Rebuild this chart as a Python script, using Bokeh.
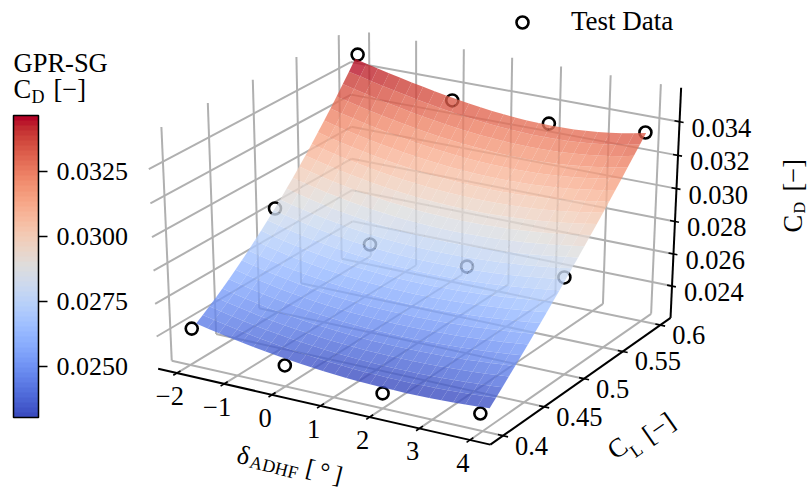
import numpy as np
from bokeh.plotting import figure
from bokeh.embed import file_html
from bokeh.resources import INLINE
from bokeh.models import Range1d, ColorBar, LinearColorMapper, FixedTicker, PrintfTickFormatter, Legend, LegendItem
from bokeh.core.properties import value

# ---- data ----
delta_ticks=[-2,-1,0,1,2,3,4]
delta_labels=["\u22122","\u22121","0","1","2","3","4"]
cl_ticks=[.4,.45,.5,.55,.6]
cl_labels=["0.4","0.45","0.5","0.55","0.6"]
cd_ticks=[.024,.026,.028,.030,.032,.034]
cd_labels=["0.024","0.026","0.028","0.030","0.032","0.034"]
cb_ticks=[.025,.0275,.03,.0325]
test_delta=[-2,0,2,4,-2,0,2,4,-2,0,2,4]
test_cl=[.403,.4,.4,.397,.5,.5,.5,.497,.6,.6,.6,.596]
test_cd=[.02415,.02329,.02292,.02317,.02848,.02746,.02733,.0280,.03503,.0333,.03298,.03365]
delta_grid=[-2,-1.76,-1.52,-1.28,-1.04,-.8,-.56,-.32,-.08,.16,.4,.64,.88,1.12,1.36,1.6,1.84,2.08,2.32,2.56,2.8,3.04,3.28,3.52,3.76,4]
cl_grid=[.408,.4156,.4231,.4307,.4382,.4458,.4534,.4609,.4685,.4760,.4836,.4912,.4987,.5063,.5138,.5214,.5290,.5365,.5441,.5516,.5592,.5668,.5743,.5819,.5894,.597]
# surface CD x 1e5, one row per cl_grid entry, one column per delta_grid entry
cd_surface_1e5=[
[2430,2415,2401,2387,2375,2363,2352,2342,2333,2325,2317,2311,2305,2300,2296,2293,2291,2290,2289,2290,2291,2293,2296,2300,2304,2310],
[2458,2442,2428,2414,2402,2390,2379,2369,2360,2353,2346,2340,2335,2330,2327,2325,2323,2322,2322,2324,2325,2328,2332,2336,2341,2347],
[2487,2471,2456,2442,2430,2418,2408,2398,2390,2382,2375,2370,2365,2361,2359,2357,2356,2356,2356,2358,2360,2364,2368,2373,2378,2385],
[2517,2501,2486,2472,2459,2448,2437,2428,2420,2412,2406,2401,2397,2393,2391,2390,2389,2390,2391,2393,2396,2400,2404,2410,2416,2423],
[2548,2532,2517,2503,2490,2479,2468,2459,2451,2444,2438,2433,2429,2426,2424,2423,2423,2424,2426,2429,2432,2436,2442,2447,2454,2461],
[2581,2564,2549,2535,2522,2511,2500,2491,2483,2476,2471,2466,2462,2460,2458,2458,2458,2459,2462,2465,2469,2473,2479,2485,2492,2500],
[2615,2598,2582,2568,2555,2544,2533,2524,2516,2510,2504,2500,2497,2494,2493,2493,2494,2495,2498,2501,2506,2511,2517,2524,2531,2539],
[2650,2633,2617,2603,2590,2578,2568,2559,2551,2544,2539,2535,2532,2530,2529,2529,2530,2532,2535,2539,2543,2549,2555,2562,2570,2579],
[2686,2669,2653,2638,2625,2614,2603,2594,2587,2580,2575,2571,2568,2566,2565,2566,2567,2569,2572,2576,2582,2587,2594,2602,2610,2619],
[2724,2706,2690,2675,2662,2651,2640,2631,2623,2617,2612,2608,2605,2603,2602,2603,2604,2607,2610,2615,2620,2626,2633,2641,2650,2659],
[2762,2744,2728,2714,2700,2689,2678,2669,2661,2655,2650,2646,2643,2641,2641,2641,2643,2645,2649,2654,2659,2666,2673,2681,2690,2700],
[2802,2784,2768,2753,2740,2728,2717,2708,2700,2694,2688,2684,2682,2680,2679,2680,2682,2685,2688,2693,2699,2706,2713,2722,2731,2741],
[2843,2825,2809,2794,2780,2768,2758,2748,2740,2734,2728,2724,2721,2720,2719,2720,2721,2724,2728,2733,2739,2746,2754,2763,2772,2783],
[2885,2867,2851,2836,2822,2810,2799,2790,2782,2775,2769,2765,2762,2760,2760,2760,2762,2765,2769,2774,2780,2787,2795,2804,2814,2825],
[2929,2911,2894,2879,2865,2853,2842,2832,2824,2817,2811,2807,2804,2802,2801,2801,2803,2806,2810,2815,2821,2828,2836,2846,2856,2867],
[2973,2955,2939,2923,2910,2897,2886,2876,2868,2860,2854,2850,2846,2844,2843,2843,2845,2847,2851,2856,2862,2870,2878,2888,2898,2910],
[3019,3001,2984,2969,2955,2942,2931,2921,2912,2905,2898,2893,2890,2887,2886,2886,2887,2890,2893,2898,2905,2912,2920,2930,2941,2953],
[3066,3048,3031,3016,3002,2989,2977,2967,2958,2950,2943,2938,2934,2931,2930,2929,2930,2933,2936,2941,2947,2955,2963,2973,2984,2997],
[3114,3096,3080,3064,3050,3037,3025,3014,3005,2997,2990,2984,2979,2976,2974,2974,2974,2976,2980,2984,2990,2998,3006,3017,3028,3041],
[3164,3146,3129,3114,3099,3086,3074,3063,3053,3044,3037,3031,3026,3022,3020,3019,3019,3021,3024,3028,3034,3041,3050,3060,3072,3085],
[3214,3196,3180,3164,3150,3136,3124,3112,3102,3093,3085,3078,3073,3069,3066,3064,3064,3066,3068,3072,3078,3085,3094,3104,3116,3130],
[3266,3248,3232,3216,3201,3187,3175,3163,3152,3142,3134,3127,3121,3116,3113,3111,3110,3111,3113,3117,3123,3130,3139,3149,3161,3175],
[3319,3302,3285,3269,3254,3240,3227,3215,3203,3193,3184,3176,3170,3165,3161,3158,3157,3157,3159,3163,3168,3175,3184,3194,3207,3221],
[3373,3356,3339,3324,3308,3294,3280,3268,3256,3245,3235,3227,3220,3214,3209,3206,3204,3204,3206,3209,3214,3220,3229,3240,3252,3267],
[3428,3412,3395,3379,3364,3349,3335,3322,3309,3298,3288,3279,3271,3264,3259,3255,3252,3252,3253,3255,3260,3266,3275,3285,3298,3313],
[3485,3468,3452,3436,3420,3405,3391,3377,3364,3352,3341,3331,3322,3315,3309,3304,3301,3300,3300,3302,3307,3313,3321,3332,3345,3360],
]
vlow,vhigh=.02304,.03465

# ---- camera: perspective projection of the 3-D box onto the page ----
FONT = value("Liberation Serif")
CAM = np.array([[45.605661,31.864782,-2.420554,369.413866],[8.286330,-14.368142,-34.189046,235.169297],[-.006389,.010206,-.005832,1.0]])
dmin,dmax,cmin,cmax,zmin,zmax=-2.4,4.4,.385,.614,.022,.036
def pr(d,c,z):
    d,c,z=np.broadcast_arrays(np.asarray(d,float),np.asarray(c,float),np.asarray(z,float))
    D,C,Z=d,(c-.5)*30,(z-.028)*500
    w=CAM[2,0]*D+CAM[2,1]*C+CAM[2,2]*Z+CAM[2,3]
    return (CAM[0,0]*D+CAM[0,1]*C+CAM[0,2]*Z+CAM[0,3])/w,(CAM[1,0]*D+CAM[1,1]*C+CAM[1,2]*Z+CAM[1,3])/w

CW=np.array([[59,76,192],[68,90,204],[77,104,215],[87,117,225],[98,130,234],[108,142,241],[119,154,247],[130,165,251],[141,176,254],[152,185,255],[163,194,255],[174,201,253],[184,208,249],[194,213,244],[204,217,238],[213,219,230],[221,221,221],[229,216,209],[236,211,197],[241,205,185],[245,197,173],[247,187,160],[247,177,148],[247,166,135],[244,154,123],[241,141,111],[236,127,99],[229,112,88],[222,96,77],[213,80,66],[203,62,56],[192,40,47],[180,4,38]],float)
def cmap(t):
    t=np.clip(t,0,1)
    pos=np.linspace(0,1,33)
    return ["#%02x%02x%02x"%tuple(int(round(np.interp(v,pos,CW[:,k]))) for k in range(3)) for v in np.atleast_1d(t)]

p=figure(width=810,height=488,toolbar_location=None,output_backend="svg",x_range=Range1d(0,810),y_range=Range1d(488,0),
         x_axis_location=None,y_axis_location=None,min_border=0,outline_line_color=None)
p.grid.visible=False

GRID="#b0b0b0"
def pline(a,b,color=GRID,w=2.0):
    x,y=pr([a[0],b[0]],[a[1],b[1]],[a[2],b[2]])
    p.line(x,y,line_color=color,line_width=w)
for d in delta_ticks:
    pline((d,cmin,zmin),(d,cmax,zmin))
    pline((d,cmax,zmin),(d,cmax,zmax))
for c in cl_ticks:
    pline((dmin,c,zmin),(dmax,c,zmin))
    pline((dmin,c,zmin),(dmin,c,zmax))
for z in cd_ticks:
    pline((dmin,cmin,z),(dmin,cmax,z))
    pline((dmin,cmax,z),(dmax,cmax,z))

AX=dict(color="black",w=2.0)
pline((dmin,cmin,zmin),(dmax,cmin,zmin),**AX)
pline((dmax,cmin,zmin),(dmax,cmax,zmin),**AX)
pline((dmax,cmax,zmin),(dmax,cmax,zmax),**AX)
TK=dict(color="black",w=1.6)
for d in delta_ticks:
    pline((d,cmin-.004,zmin),(d,cmin+.004,zmin),**TK)
for c in cl_ticks:
    pline((dmax-.1,c,zmin),(dmax+.1,c,zmin),**TK)
for z in cd_ticks:
    pline((dmax-.1,cmax,z),(dmax+.08,cmax,z),**TK)

TXT=dict(text_font=FONT,text_font_size="26.5px",text_color="black")
x,y=pr(delta_ticks,cmin,zmin)
p.text(x-7,y+23,text=delta_labels,text_align="center",text_baseline="middle",**TXT)
x,y=pr(dmax,cl_ticks,zmin)
p.text(x+12,y+10,text=cl_labels,text_align="left",text_baseline="middle",**TXT)
x,y=pr(dmax,cmax,cd_ticks)
p.text(x+12,y+6,text=cd_labels,text_align="left",text_baseline="middle",**TXT)

# test data under the translucent surface
tx,ty=pr(test_delta,test_cl,test_cd)
pts=p.scatter(tx,ty,size=12,fill_color=None,line_color="black",line_width=2.6)

# surface
gd=np.array(delta_grid);gc=np.array(cl_grid);surface=np.array(cd_surface_1e5)*1e-5
xs=[];ys=[];cols=[]
sx,sy=pr(gd[None,:],gc[:,None],surface)
for j in range(len(gc)-1):
    for i in range(len(gd)-1):
        idx=([j,j,j+1,j+1],[i,i+1,i+1,i])
        xs.append(list(sx[idx]));ys.append(list(sy[idx]))
        cols.append(cmap((surface[j:j+2,i:i+2].mean()-vlow)/(vhigh-vlow))[0])
p.patches(xs,ys,fill_color=cols,fill_alpha=.8,line_color=None)

def rot(parts,ang):
    a=np.deg2rad(ang)
    for t,x,y,sz in parts:
        off=.35*sz
        p.text([x-off*np.sin(a)],[y-off*np.cos(a)],text=[t],angle=ang,angle_units="deg",text_font=FONT,text_font_size=f"{sz}px",text_align="left",text_baseline="alphabetic",text_color="black")
rot([("\u03b4",235,462,26.5),("ADHF",248,467,18),("[\u2009\u00b0\u2009]",304,475,25)],-14)
rot([("C",615,460,26.5),("L",635,458,18),("[\u2212]",650,444,26.5)],35)
rot([("C",802,232,26.5),("D",805,213,16),("[\u2212]",802,191,26.5)],90)
rot([("GPR-SG",13,72,26.5),("C",13,98,26.5),("D",31,103,18),("[\u2212]",53,98,26.5)],0)

palette=cmap(np.linspace(0,1,60))
mapper=LinearColorMapper(palette=palette,low=vlow,high=vhigh)
cb=ColorBar(color_mapper=mapper,location=(13,71),width=25,height=302,padding=0,margin=0,
  ticker=FixedTicker(ticks=cb_ticks),formatter=PrintfTickFormatter(format="%.4f"),
  major_tick_in=0,major_tick_out=9,major_tick_line_color="black",major_tick_line_width=1.6,minor_tick_line_color=None,
  bar_line_color="black",bar_line_width=1.5,border_line_color=None,background_fill_color=None,
  major_label_text_font="Liberation Serif",major_label_text_font_size="26px",major_label_text_color="black",label_standoff=9)
p.add_layout(cb)

lg=Legend(items=[LegendItem(label="Test Data",renderers=[pts])],location=(507,451),orientation="vertical",
  background_fill_alpha=0,border_line_color=None,label_text_font="Liberation Serif",label_text_font_size="27px",
  label_text_color="black",glyph_width=30,glyph_height=30,padding=0,margin=0,label_standoff=34)
p.add_layout(lg)
open("out.html","w").write(file_html(p,INLINE))
